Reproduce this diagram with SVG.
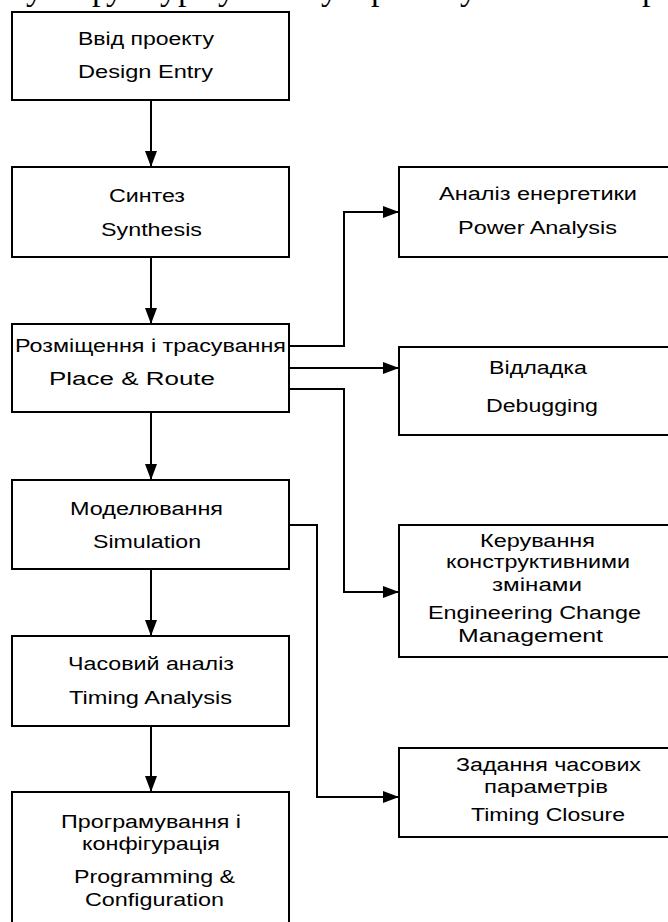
<svg xmlns="http://www.w3.org/2000/svg" width="668" height="922" viewBox="0 0 668 922">
  <style>
    .box { fill: #fff; stroke: #000; stroke-width: 2; }
    .lbl { font-family: "Liberation Sans", Arial, sans-serif; font-size: 18px; fill: #000; }
    .edge { fill: none; stroke: #000; stroke-width: 2; }
    .top { font-family: "Liberation Serif", "Times New Roman", serif; font-size: 34px; fill: #000; }
  </style>
  <defs>
    <marker id="arr" markerWidth="16" markerHeight="12" refX="16" refY="6" orient="auto" markerUnits="userSpaceOnUse">
      <path d="M0,0 L16,6 L0,12 Z" fill="#000"/>
    </marker>
  </defs>
  <rect width="668" height="922" fill="#fff"/>

  <!-- tail of the preceding text line, cut by the top edge -->
  <g id="page-text-tail">
    <text class="top" x="26" y="0">у</text>
    <text class="top" x="92" y="0">р</text>
    <text class="top" x="106" y="0">у</text>
    <text class="top" x="160" y="0">у</text>
    <text class="top" x="178" y="0">р</text>
    <text class="top" x="218" y="0">у</text>
    <text class="top" x="321" y="0">у</text>
    <text class="top" x="371" y="0">р</text>
    <text class="top" x="460" y="0">у</text>
    <text class="top" x="642" y="0">р</text>
  </g>

  <!-- main flow -->
  <g id="design-entry">
    <rect class="box" x="12" y="12" width="277" height="88"/>
    <text class="lbl" x="78" y="45" textLength="136" lengthAdjust="spacingAndGlyphs">Ввід проекту</text>
    <text class="lbl" x="78" y="78" textLength="135" lengthAdjust="spacingAndGlyphs">Design Entry</text>
  </g>
  <g id="synthesis">
    <rect class="box" x="12" y="167" width="277" height="90"/>
    <text class="lbl" x="109" y="202" textLength="76" lengthAdjust="spacingAndGlyphs">Синтез</text>
    <text class="lbl" x="101" y="236" textLength="101" lengthAdjust="spacingAndGlyphs">Synthesis</text>
  </g>
  <g id="place-route">
    <rect class="box" x="12" y="324" width="277" height="88"/>
    <text class="lbl" x="15" y="352" textLength="271" lengthAdjust="spacingAndGlyphs">Розміщення і трасування</text>
    <text class="lbl" x="49" y="385" textLength="166" lengthAdjust="spacingAndGlyphs">Place &amp; Route</text>
  </g>
  <g id="simulation">
    <rect class="box" x="12" y="480" width="277" height="89"/>
    <text class="lbl" x="70" y="515" textLength="153" lengthAdjust="spacingAndGlyphs">Моделювання</text>
    <text class="lbl" x="93" y="548" textLength="108" lengthAdjust="spacingAndGlyphs">Simulation</text>
  </g>
  <g id="timing-analysis">
    <rect class="box" x="12" y="636" width="277" height="90"/>
    <text class="lbl" x="68" y="670" textLength="166" lengthAdjust="spacingAndGlyphs">Часовий аналіз</text>
    <text class="lbl" x="69" y="704" textLength="163" lengthAdjust="spacingAndGlyphs">Timing Analysis</text>
  </g>
  <g id="programming">
    <rect class="box" x="12" y="792" width="277" height="140"/>
    <text class="lbl" x="61" y="828" textLength="180" lengthAdjust="spacingAndGlyphs">Програмування і</text>
    <text class="lbl" x="82" y="850" textLength="138" lengthAdjust="spacingAndGlyphs">конфігурація</text>
    <text class="lbl" x="74" y="883" textLength="161" lengthAdjust="spacingAndGlyphs">Programming &amp;</text>
    <text class="lbl" x="85" y="906" textLength="139" lengthAdjust="spacingAndGlyphs">Configuration</text>
  </g>

  <!-- side tasks -->
  <g id="power-analysis">
    <rect class="box" x="399" y="167" width="280" height="90"/>
    <text class="lbl" x="439" y="200" textLength="198" lengthAdjust="spacingAndGlyphs">Аналіз енергетики</text>
    <text class="lbl" x="458" y="234" textLength="159" lengthAdjust="spacingAndGlyphs">Power Analysis</text>
  </g>
  <g id="debugging">
    <rect class="box" x="399" y="347" width="280" height="88"/>
    <text class="lbl" x="489" y="374" textLength="98" lengthAdjust="spacingAndGlyphs">Відладка</text>
    <text class="lbl" x="486" y="412" textLength="112" lengthAdjust="spacingAndGlyphs">Debugging</text>
  </g>
  <g id="change-management">
    <rect class="box" x="399" y="525" width="280" height="132"/>
    <text class="lbl" x="480" y="547" textLength="115" lengthAdjust="spacingAndGlyphs">Керування</text>
    <text class="lbl" x="446" y="568" textLength="184" lengthAdjust="spacingAndGlyphs">конструктивними</text>
    <text class="lbl" x="492" y="591" textLength="90" lengthAdjust="spacingAndGlyphs">змінами</text>
    <text class="lbl" x="428" y="619" textLength="213" lengthAdjust="spacingAndGlyphs">Engineering Change</text>
    <text class="lbl" x="458" y="642" textLength="145" lengthAdjust="spacingAndGlyphs">Management</text>
  </g>
  <g id="timing-closure">
    <rect class="box" x="399" y="748" width="280" height="89"/>
    <text class="lbl" x="456" y="771" textLength="185" lengthAdjust="spacingAndGlyphs">Задання часових</text>
    <text class="lbl" x="484" y="793" textLength="124" lengthAdjust="spacingAndGlyphs">параметрів</text>
    <text class="lbl" x="471" y="821" textLength="154" lengthAdjust="spacingAndGlyphs">Timing Closure</text>
  </g>

  <g id="connectors">
    <path class="edge" d="M151,100 V167" marker-end="url(#arr)"/>
    <path class="edge" d="M151,257 V324" marker-end="url(#arr)"/>
    <path class="edge" d="M151,412 V480" marker-end="url(#arr)"/>
    <path class="edge" d="M151,569 V636" marker-end="url(#arr)"/>
    <path class="edge" d="M151,726 V792" marker-end="url(#arr)"/>
    <path class="edge" d="M289,346 H344 V212 H399" marker-end="url(#arr)"/>
    <path class="edge" d="M289,368 H399" marker-end="url(#arr)"/>
    <path class="edge" d="M289,389 H344 V592 H399" marker-end="url(#arr)"/>
    <path class="edge" d="M289,525 H317 V797 H399" marker-end="url(#arr)"/>
  </g>
</svg>
